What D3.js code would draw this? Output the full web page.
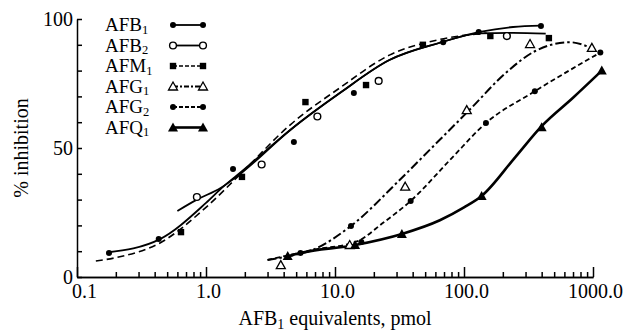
<!DOCTYPE html>
<html>
<head>
<meta charset="utf-8">
<script src="https://cdn.jsdelivr.net/npm/d3@7/dist/d3.min.js"></script>
<style>
  body { margin: 0; background: #fff; }
  svg text { font-family: "Liberation Serif", "DejaVu Serif", serif; fill: #000; }
  .axis path, .axis line { stroke: #000; stroke-width: 1.5; }
</style>
</head>
<body>
<div id="chart"></div>
<script>
// --- data: [pmol, % inhibition] ---
const afb1Pts = [[0.177, 9.3], [0.43, 14.7], [1.62, 41.9], [4.8, 52.3], [14, 71.3], [69, 91], [130, 95], [395, 97.3]];
const afb1Fit = [[0.17, 9.5], [0.44, 14.7], [1.0, 28.7], [1.36, 35], [1.9, 41], [4.5, 57], [10.9, 71.3], [26.4, 84.1], [64, 90.7], [133, 95], [240, 96.9], [395, 97.4]];

const afb2Pts = [[0.85, 31], [2.7, 43.6], [7.3, 62.2], [21.8, 76], [215, 93.4]];
const afb2Fit = [[0.6, 25.6], [0.85, 30], [1.3, 34.5], [1.9, 40.5], [4.5, 57], [10.9, 71.3], [26.4, 84.1], [64, 90.7], [133, 94.4], [240, 94.6], [430, 94.3]];

const afm1Pts = [[0.64, 17.4], [1.9, 38.8], [5.9, 67.8], [17.4, 74.4], [48, 90], [160, 93.4], [455, 92.6]];
const afm1Fit = [[0.14, 6.2], [0.2, 7.5], [0.44, 13.2], [1.0, 27], [1.9, 40.5], [4.5, 59], [10.9, 73.3], [26.4, 86], [64, 92], [150, 94.6]];

const afg1Pts = [[3.8, 4.6], [13, 12.4], [35, 35], [105, 64.7], [325, 90.3], [980, 88.8]];
const afg1Fit = [[3.0, 6.6], [4.3, 8], [6.7, 10.5], [13.3, 19.8], [31.7, 37.6], [60, 51.5], [110, 64.7], [215, 79.5], [354, 87.5], [660, 91], [950, 89]];

const afg2Pts = [[5.4, 9.3], [13.3, 19.8], [16, 13.6], [38.6, 29.5], [148, 59.7], [354, 72], [1140, 87]];
const afg2Fit = [[3.0, 6.6], [6.7, 10.5], [14.8, 13.8], [23.6, 21], [38.6, 29.5], [80, 46], [148, 59.7], [354, 72], [1140, 87]];

const afq1Pts = [[4.3, 8.1], [14.3, 12.4], [33, 16.7], [137, 31.4], [400, 58], [1170, 80]];
const afq1Fit = [[4.3, 8], [5.4, 9.3], [14.3, 12.4], [33, 16.7], [65, 22], [100, 27], [137, 31.4], [250, 46.5], [400, 58.5], [700, 69.5], [1170, 80]];

const seriesNames = ["AFB", "AFB", "AFM", "AFG", "AFG", "AFQ"];
const seriesSubs = ["1", "2", "1", "1", "2", "1"];
const xMajorTicks = [0.1, 1, 10, 100, 1000];
const yLabelTicks = [0, 50, 100];

// --- look of each series ---
const series = [
  { pts: afb1Pts, fit: afb1Fit, marker: "dot", dash: null, width: 1.8 },
  { pts: afb2Pts, fit: afb2Fit, marker: "ring", dash: null, width: 1.8 },
  { pts: afm1Pts, fit: afm1Fit, marker: "square", dash: "7,4", width: 1.6 },
  { pts: afg1Pts, fit: afg1Fit, marker: "opentri", dash: "9,3,2.5,3", width: 2 },
  { pts: afg2Pts, fit: afg2Fit, marker: "dot", dash: "5,3", width: 1.8 },
  { pts: afq1Pts, fit: afq1Fit, marker: "tri", dash: null, width: 2.6 }
];

const W = 626, H = 333;
const svg = d3.select("#chart").append("svg")
  .attr("width", W)
  .attr("height", H);

const x = d3.scaleLog().domain([0.1, 1000]).range([77, 593]);
const y = d3.scaleLinear().domain([0, 100]).range([277, 19]);

// x axis: minor ticks then major ticks with labels
const minorTicks = x.ticks().filter(v => !xMajorTicks.includes(+v.toPrecision(3)));
svg.append("g")
  .attr("class", "axis")
  .attr("transform", `translate(0,${y(0)})`)
  .call(d3.axisBottom(x).tickValues(minorTicks).tickSizeInner(-5).tickSizeOuter(0).tickFormat(""));

const xAx = svg.append("g")
  .attr("class", "axis")
  .attr("transform", `translate(0,${y(0)})`)
  .call(d3.axisBottom(x).tickValues(xMajorTicks).tickSizeInner(-10).tickSizeOuter(0)
    .tickPadding(7).tickFormat(d3.format(".1f")));
xAx.selectAll("text").style("font-size", "20px").attr("dx", (d, i) => i === 0 ? 7 : 2);

// y axis: ticks every 10 pointing inward, labels at 0/50/100
const yAx = svg.append("g")
  .attr("class", "axis")
  .attr("transform", `translate(${x(0.1)},0)`)
  .call(d3.axisLeft(y).tickValues(d3.range(0, 101, 10)).tickSizeInner(-5).tickSizeOuter(0)
    .tickPadding(4).tickFormat(d => yLabelTicks.includes(d) ? d : ""));
yAx.selectAll("text").style("font-size", "20px");

// axis titles
const xt = svg.append("text")
  .attr("x", 335).attr("y", 325)
  .attr("text-anchor", "middle")
  .style("font-size", "20px");
xt.append("tspan").text("AFB");
xt.append("tspan").attr("dy", 4).style("font-size", "14px").text("1");
xt.append("tspan").attr("dy", -4).text(" equivalents, pmol");

svg.append("text")
  .attr("transform", `translate(28,148) rotate(-90)`)
  .attr("text-anchor", "middle")
  .style("font-size", "20px")
  .text("% inhibition");

// --- curves ---
const line = d3.line()
  .x(d => x(d[0]))
  .y(d => y(d[1]))
  .curve(d3.curveMonotoneX);

const plot = svg.append("g");
series.forEach(s => {
  plot.append("path")
    .datum(s.fit)
    .attr("d", line)
    .attr("fill", "none")
    .attr("stroke", "#000")
    .attr("stroke-width", s.width)
    .attr("stroke-dasharray", s.dash);
});

// marker drawing helper
function drawMarker(g, type, cx, cy) {
  if (type === "dot") {
    g.append("circle").attr("cx", cx).attr("cy", cy).attr("r", 3).attr("fill", "#000");
  } else if (type === "ring") {
    g.append("circle").attr("cx", cx).attr("cy", cy).attr("r", 3.4)
      .attr("fill", "#fff").attr("stroke", "#000").attr("stroke-width", 1.4);
  } else if (type === "square") {
    g.append("rect").attr("x", cx - 3.2).attr("y", cy - 3.2).attr("width", 6.4).attr("height", 6.4).attr("fill", "#000");
  } else if (type === "opentri") {
    g.append("path").attr("d", `M${cx},${cy - 4.5}L${cx + 4.5},${cy + 3.5}L${cx - 4.5},${cy + 3.5}Z`)
      .attr("fill", "#fff").attr("stroke", "#000").attr("stroke-width", 1.3);
  } else if (type === "tri") {
    g.append("path").attr("d", `M${cx},${cy - 5}L${cx + 5},${cy + 4}L${cx - 5},${cy + 4}Z`).attr("fill", "#000");
  }
}

series.forEach(s => {
  const g = plot.append("g");
  s.pts.forEach(p => drawMarker(g, s.marker, x(p[0]), y(p[1])));
});

// --- legend ---
const legend = svg.append("g");
series.forEach((s, i) => {
  const ly = 25 + i * 20.5;
  const t = legend.append("text")
    .attr("x", 105).attr("y", ly + 6)
    .style("font-size", "19px");
  t.append("tspan").text(seriesNames[i]);
  t.append("tspan").attr("dy", 2.5).style("font-size", "12.5px").text(seriesSubs[i]);

  legend.append("line")
    .attr("x1", 173).attr("x2", 203)
    .attr("y1", ly).attr("y2", ly)
    .attr("stroke", "#000")
    .attr("stroke-width", s.width)
    .attr("stroke-dasharray", s.dash === null ? null : (i === 3 ? "5,2,2,2" : "4,2"));
  drawMarker(legend, s.marker, 173, ly);
  drawMarker(legend, s.marker, 203, ly);
});
</script>
</body>
</html>
